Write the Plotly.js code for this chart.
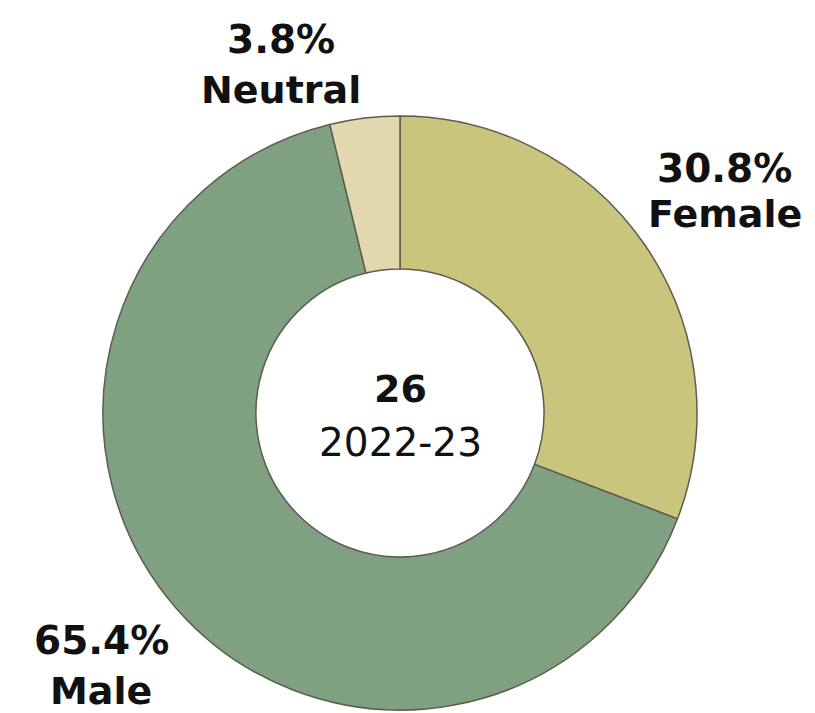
<!DOCTYPE html>
<html>
<head>
<meta charset="utf-8">
<script src="https://cdn.plot.ly/plotly-3.0.1.min.js"></script>
<style>html,body{margin:0;padding:0;background:#fff;}#chart{width:815px;height:713px;}</style>
</head>
<body>
<div id="chart"></div>
<script>
const categories = ["Female", "Male", "Neutral"];
const shares = [30.8, 65.4, 3.8];
const sliceColors = ["#cac57c", "#7fa181", "#e2d8b0"];
const centerValue = "26";
const centerPeriod = "2022-23";

// label anchor positions in paper coordinates (layout only)
const labelPos = {
  Female:  {x: 0.889, y1: 0.763, y2: 0.700},
  Male:    {x: 0.124, y1: 0.101, y2: 0.031},
  Neutral: {x: 0.345, y1: 0.944, y2: 0.874}
};

const font = {family: "DejaVu Sans, Verdana, sans-serif", color: "#111", size: 38};
const annotations = [];
categories.forEach((c, i) => {
  const p = labelPos[c];
  annotations.push({x: p.x, y: p.y1, xref: "paper", yref: "paper", showarrow: false,
    text: "<b>" + shares[i].toFixed(1) + "%</b>", font: Object.assign({}, font, {size: 39}), xanchor: "center", yanchor: "middle"});
  annotations.push({x: p.x, y: p.y2, xref: "paper", yref: "paper", showarrow: false,
    text: "<b>" + c + "</b>", font: font, xanchor: "center", yanchor: "middle"});
});
annotations.push({x: 0.491, y: 0.4545, xref: "paper", yref: "paper", showarrow: false,
  text: "<b>" + centerValue + "</b>", font: font, xanchor: "center", yanchor: "middle"});
annotations.push({x: 0.491, y: 0.380, xref: "paper", yref: "paper", showarrow: false,
  text: centerPeriod, font: Object.assign({}, font, {size: 39}), xanchor: "center", yanchor: "middle"});

const trace = {
  type: "pie",
  labels: categories,
  values: shares,
  sort: false,
  direction: "clockwise",
  rotation: 0,
  hole: 0.485,
  textinfo: "none",
  hoverinfo: "label+percent",
  marker: {colors: sliceColors, line: {color: "#5c5c50", width: 1.5}},
  domain: {x: [0.1264, 0.8552], y: [0.0042, 0.8373]},
  showlegend: false
};

Plotly.newPlot("chart", [trace], {
  width: 815, height: 713,
  margin: {l: 0, r: 0, t: 0, b: 0},
  paper_bgcolor: "#fff",
  showlegend: false,
  annotations: annotations
}, {displayModeBar: false, staticPlot: true});
</script>
</body>
</html>
